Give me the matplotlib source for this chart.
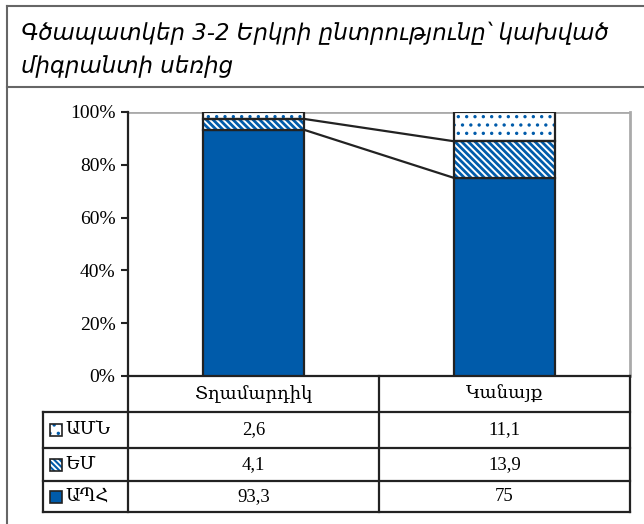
import matplotlib.pyplot as plt
import matplotlib as mpl
from matplotlib.lines import Line2D
from matplotlib.patches import Rectangle
import numpy as np

# dati
categorie = ['Տղամարդիկ', 'Կանայք']
serie = ['ԱՊՀ', 'ԵՄ', 'ԱՄՆ']
apz = [93.3, 75]
em = [4.1, 13.9]
amn = [2.6, 11.1]
etichette = {'ԱՊՀ': ['93,3', '75'], 'ԵՄ': ['4,1', '13,9'], 'ԱՄՆ': ['2,6', '11,1']}

titolo = 'Գծապատկեր 3-2 Երկրի ընտրությունը՝ կախված\nմիգրանտի սեռից'

blu = '#005BAA'
bordo = '#222222'
serif = ['Liberation Serif', 'DejaVu Serif']

W, H = 644, 524
fig = plt.figure(figsize=(W / 100, H / 100), dpi=100)


def fx(x):
    return x / W


def fy(y):
    return 1 - y / H


# assi (in pixel dell'immagine)
L, R, T, B = 128, 630, 112, 376
ax = fig.add_axes([fx(L), fy(B), fx(R) - fx(L), fy(T) - fy(B)])

x = np.arange(len(categorie))
w = 0.4
valori = [apz, em, amn]
stili = [('', None), ('\\' * 5, 2.0), ('..', 1.2)]
base = np.zeros(len(categorie))
tops = []
for s, v, (hatch, hlw) in zip(serie, valori, stili):
    v = np.array(v)
    if hatch == '':
        ax.bar(x, v, w, bottom=base, color=blu, edgecolor=bordo, linewidth=1.6, zorder=3)
    else:
        with mpl.rc_context({'hatch.linewidth': hlw}):
            ax.bar(x, v, w, bottom=base, facecolor='white', edgecolor=blu,
                   hatch=hatch, linewidth=0, zorder=3)
        ax.bar(x, v, w, bottom=base, fill=False, edgecolor=bordo, linewidth=1.6, zorder=4)
    base = base + v
    tops.append(base.copy())

# linee di collegamento tra le barre
for t in tops[:-1]:
    ax.plot([x[0] + w / 2, x[1] - w / 2], [t[0], t[1]], color=bordo, lw=1.6, zorder=2)

ax.set_xlim(-0.5, len(categorie) - 0.5)
ax.set_ylim(0, 100)
ax.set_yticks(np.arange(0, 101, 20))
ax.set_yticklabels([f'{t}%' for t in range(0, 101, 20)], fontfamily=serif, fontsize=14)
ax.set_xticks([])
ax.tick_params(axis='y', length=5, width=1.5, color=bordo, pad=4)
ax.axhline(100, color='#aaaaaa', lw=2, zorder=1)
ax.spines['top'].set_visible(False)
ax.spines['right'].set_color('#aaaaaa')
ax.spines['right'].set_linewidth(2)
ax.spines['left'].set_color(bordo)
ax.spines['left'].set_linewidth(1.6)
ax.spines['bottom'].set_color(bordo)
ax.spines['bottom'].set_linewidth(1.6)


def linea(x0, y0, x1, y1, c=bordo, lw=1.6):
    fig.add_artist(Line2D([fx(x0), fx(x1)], [fy(y0), fy(y1)], color=c, lw=lw))


# tabella dati
TL = 43
righe_y = [376, 412, 448, 481, 512]
MID = (L + R) / 2
linea(L, 376, L, 512)
linea(MID, 376, MID, 512)
linea(R, 376, R, 512)
linea(L, 412, R, 412)
linea(TL, 412, L, 412)
for yy in righe_y[2:]:
    linea(TL, yy, R, yy)
linea(TL, 412, TL, 512)

centri = [L + (MID - L) / 2, MID + (R - MID) / 2]
for c, cat in zip(centri, categorie):
    fig.text(fx(c), fy(394), cat, ha='center', va='center', fontfamily=serif, fontsize=13)

ordine = ['ԱՄՆ', 'ԵՄ', 'ԱՊՀ']
hatch_ord = {'ԱՄՆ': ('..', 1.2), 'ԵՄ': ('\\' * 6, 1.5), 'ԱՊՀ': ('', None)}
for i, s in enumerate(ordine):
    yc = (righe_y[i + 1] + righe_y[i + 2]) / 2
    hatch, hlw = hatch_ord[s]
    if hatch == '':
        fig.add_artist(Rectangle((fx(50), fy(yc + 6)), fx(12), 12 / H, facecolor=blu,
                                 edgecolor=bordo, lw=1.2))
    else:
        with mpl.rc_context({'hatch.linewidth': hlw}):
            fig.add_artist(Rectangle((fx(50), fy(yc + 6)), fx(12), 12 / H, facecolor='white',
                                     edgecolor=blu, hatch=hatch, lw=0))
        fig.add_artist(Rectangle((fx(50), fy(yc + 6)), fx(12), 12 / H, fill=False,
                                 edgecolor=bordo, lw=1.2))
    fig.text(fx(65), fy(yc), s, ha='left', va='center', fontfamily=serif, fontsize=13)
    for c, val in zip(centri, etichette[s]):
        fig.text(fx(c), fy(yc), val, ha='center', va='center', fontfamily=serif, fontsize=13.5)

# cornice e titolo
grigio = '#666666'
linea(7, 6, W, 6, c=grigio, lw=1.5)
linea(7, 6, 7, H, c=grigio, lw=1.5)
linea(7, 87, W, 87, c=grigio, lw=1.5)
fig.text(fx(21), fy(50), titolo, ha='left', va='center', fontsize=16.5, style='italic',
         fontfamily='DejaVu Sans', linespacing=1.55)

plt.savefig('out.png', dpi=100)
